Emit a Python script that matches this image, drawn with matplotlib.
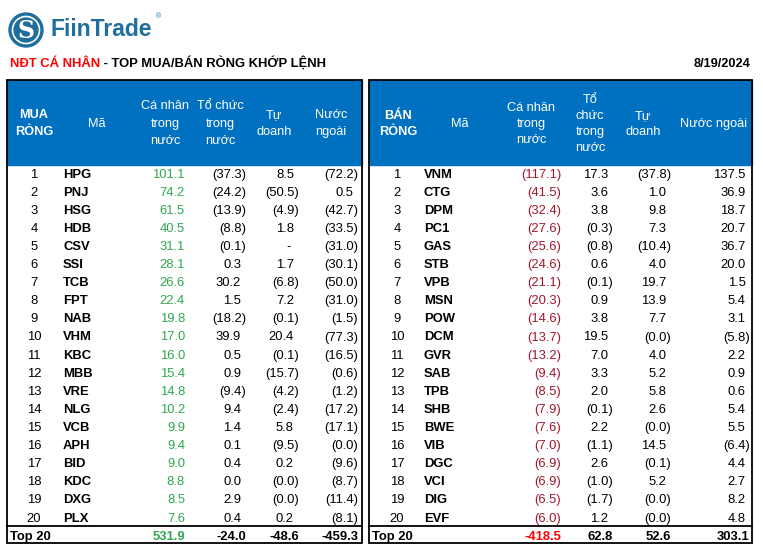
import numpy as np
import matplotlib
matplotlib.use("Agg")
import matplotlib.pyplot as plt
from matplotlib.patches import Rectangle, Circle

plt.rcParams['font.family'] = ['Liberation Sans', 'DejaVu Sans']

# Data
DATE = "8/19/2024"
BUY_TICKERS = ["HPG", "PNJ", "HSG", "HDB", "CSV", "SSI", "TCB", "FPT", "NAB", "VHM",
               "KBC", "MBB", "VRE", "NLG", "VCB", "APH", "BID", "KDC", "DXG", "PLX"]
BUY_PERSONAL = [101.1, 74.2, 61.5, 40.5, 31.1, 28.1, 26.6, 22.4, 19.8, 17.0,
                16.0, 15.4, 14.8, 10.2, 9.9, 9.4, 9.0, 8.8, 8.5, 7.6]
BUY_INSTITUTION = [-37.3, -24.2, -13.9, -8.8, -0.1, 0.3, 30.2, 1.5, -18.2, 39.9,
                   0.5, 0.9, -9.4, 9.4, 1.4, 0.1, 0.4, 0.0, 2.9, 0.4]
BUY_PROPRIETARY = [8.5, -50.5, -4.9, 1.8, None, 1.7, -6.8, 7.2, -0.1, 20.4,
                   -0.1, -15.7, -4.2, -2.4, 5.8, -9.5, 0.2, -0.0, -0.0, 0.2]
BUY_FOREIGN = [-72.2, 0.5, -42.7, -33.5, -31.0, -30.1, -50.0, -31.0, -1.5, -77.3,
               -16.5, -0.6, -1.2, -17.2, -17.1, -0.0, -9.6, -8.7, -11.4, -8.1]
BUY_TOTALS = [531.9, -24.0, -48.6, -459.3]

SELL_TICKERS = ["VNM", "CTG", "DPM", "PC1", "GAS", "STB", "VPB", "MSN", "POW", "DCM",
                "GVR", "SAB", "TPB", "SHB", "BWE", "VIB", "DGC", "VCI", "DIG", "EVF"]
SELL_PERSONAL = [-117.1, -41.5, -32.4, -27.6, -25.6, -24.6, -21.1, -20.3, -14.6, -13.7,
                 -13.2, -9.4, -8.5, -7.9, -7.6, -7.0, -6.9, -6.9, -6.5, -6.0]
SELL_INSTITUTION = [17.3, 3.6, 3.8, -0.3, -0.8, 0.6, -0.1, 0.9, 3.8, 19.5,
                    7.0, 3.3, 2.0, -0.1, 2.2, -1.1, 2.6, -1.0, -1.7, 1.2]
SELL_PROPRIETARY = [-37.8, 1.0, 9.8, 7.3, -10.4, 4.0, 19.7, 13.9, 7.7, -0.0,
                    4.0, 5.2, 5.8, 2.6, -0.0, 14.5, -0.1, 5.2, -0.0, -0.0]
SELL_FOREIGN = [137.5, 36.9, 18.7, 20.7, 36.7, 20.0, 1.5, 5.4, 3.1, -5.8,
                2.2, 0.9, 0.6, 5.4, 5.5, -6.4, 4.4, 2.7, 8.2, 4.8]
SELL_TOTALS = [-418.5, 62.8, 52.6, 303.1]

BUY_HEADERS = [["MUA", "RÒNG"], ["Mã"], ["Cá nhân", "trong", "nước"],
               ["Tổ chức", "trong", "nước"], ["Tự", "doanh"], ["Nước", "ngoài"]]
SELL_HEADERS = [["BÁN", "RÒNG"], ["Mã"], ["Cá nhân", "trong", "nước"],
                ["Tổ", "chức", "trong", "nước"], ["Tự", "doanh"], ["Nước ngoài"]]

BLUE = "#0070C0"
GREEN = "#2FA84F"
DARK_RED = "#A3182E"
RED = "#FF0000"
LOGO = "#1F6E9C"
FS = 9.4
HFS = 9.2


def fmt(v):
    if v is None:
        return "-"
    if np.signbit(v):
        return f"({abs(v):.1f})"
    return f"{v:.1f}"


fig = plt.figure(figsize=(7.63, 5.53), dpi=100)
ax = fig.add_axes([0, 0, 1, 1])
ax.set_xlim(0, 763)
ax.set_ylim(553, 0)
ax.axis("off")

# logo
ax.add_patch(Circle((26, 30), 17, color=LOGO))
ax.add_patch(Circle((26, 30), 13.5, fill=False, ec="white", lw=1.2))
ax.text(26, 31, "S", color="white", fontsize=17, fontweight="bold",
        family="DejaVu Serif", ha="center", va="center")
ax.text(50, 30, "FiinTrade", color=LOGO, fontsize=16.5, fontweight="bold",
        ha="left", va="center")
ax.text(156, 17, "®", color=LOGO, fontsize=5, ha="left", va="center")

# title
t1 = ax.text(10, 67, "NĐT CÁ NHÂN", color=RED, fontsize=9.4, fontweight="bold",
             ha="left", va="baseline")
ax.annotate(" - TOP MUA/BÁN RÒNG KHỚP LỆNH", xy=(1, 0), xycoords=t1,
            color="black", fontsize=9.4, fontweight="bold", ha="left", va="bottom")
ax.text(751, 67, DATE, fontsize=9.2, fontweight="bold", ha="right", va="baseline")

ROW_Y0 = 173
ROW_STEP = 18.1
TOTAL_Y = 535
BASE = 4.6  # baseline offset below row centre


def draw_table(x0, x1, headers, head_x, head_gap, rank_x, tick_x,
               neg_edges, pos_shift, total_edges, tickers, cols, totals, first_color,
               total_color):
    ax.add_patch(Rectangle((x0, 80), x1 - x0, 85, color=BLUE, zorder=1))
    ax.add_patch(Rectangle((x0, 80), x1 - x0, 463, fill=False, ec="black", lw=1.3, zorder=3))
    ax.plot([x0, x1], [526, 526], color="black", lw=1.3, zorder=3)
    for j, (lines, hx) in enumerate(zip(headers, head_x)):
        n = len(lines)
        for k, s in enumerate(lines):
            y = 122 + (k - (n - 1) / 2) * head_gap
            ax.text(hx, y + BASE, s, color="white", fontsize=HFS,
                    fontweight="bold" if j == 0 else "normal",
                    ha="center", va="baseline", zorder=4)
    for i, tk in enumerate(tickers):
        y = ROW_Y0 + i * ROW_STEP + BASE
        ax.text(rank_x, y, str(i + 1), fontsize=FS, ha="center", va="baseline")
        ax.text(tick_x, y, tk, fontsize=FS, fontweight="bold", ha="left", va="baseline")
        for c, (vals, edge) in enumerate(zip(cols, neg_edges)):
            v = vals[i]
            x = edge
            if v is None:
                x = edge - pos_shift - 3
            elif not np.signbit(v):
                x = edge - pos_shift
            color = first_color if c == 0 else "black"
            ax.text(x, y, fmt(v), fontsize=FS, color=color, ha="right", va="baseline")
    ax.text(x0 + 3, TOTAL_Y + BASE, "Top 20", fontsize=FS, fontweight="bold",
            ha="left", va="baseline")
    for c, (v, edge) in enumerate(zip(totals, total_edges)):
        color = total_color if c == 0 else "black"
        ax.text(edge, TOTAL_Y + BASE, f"{v:.1f}", fontsize=FS, fontweight="bold",
                color=color, ha="right", va="baseline")


draw_table(7, 362, BUY_HEADERS, [34, 97, 165, 220, 274, 331], 17.5, 34, 63,
           [190, 246, 299, 358], 5, [185, 246, 299, 358], BUY_TICKERS,
           [BUY_PERSONAL, BUY_INSTITUTION, BUY_PROPRIETARY, BUY_FOREIGN],
           BUY_TOTALS, GREEN, GREEN)
draw_table(369, 752, SELL_HEADERS, [398, 460, 531, 590, 643, 713], 16, 397, 424,
           [561, 613, 671, 750], 4.5, [561, 613, 671, 749], SELL_TICKERS,
           [SELL_PERSONAL, SELL_INSTITUTION, SELL_PROPRIETARY, SELL_FOREIGN],
           SELL_TOTALS, DARK_RED, RED)

fig.savefig("out.png", dpi=100)
